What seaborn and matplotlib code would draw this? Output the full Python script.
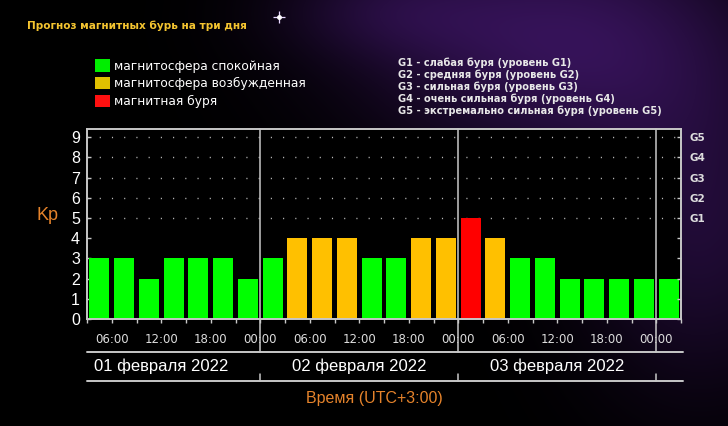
import numpy as np
import pandas as pd
import matplotlib
matplotlib.use('Agg')
import matplotlib.pyplot as plt
from matplotlib.patches import Patch
import seaborn as sns

# Kp forecast, 3-hour slots from 03:00 01.02.2022 to 03:00 04.02.2022
kp_values = [3, 3, 2, 3, 3, 3, 2,
             3, 4, 4, 4, 3, 3, 4, 4,
             5, 4, 3, 3, 2, 2, 2, 2,
             2]
hour_labels = ['06:00', '12:00', '18:00', '00:00'] * 3
day_labels = ['01 февраля 2022', '02 февраля 2022', '03 февраля 2022']
kp_ticks = list(range(10))
g_labels = ['G1', 'G2', 'G3', 'G4', 'G5']
state_labels = ['магнитосфера спокойная', 'магнитосфера возбужденная', 'магнитная буря']
g_descriptions = [
    'G1 - слабая буря (уровень G1)',
    'G2 - средняя буря (уровень G2)',
    'G3 - сильная буря (уровень G3)',
    'G4 - очень сильная буря (уровень G4)',
    'G5 - экстремально сильная буря (уровень G5)',
]

bar_colors = {state_labels[0]: '#00ff00', state_labels[1]: '#ffc000', state_labels[2]: '#ff0000'}
legend_colors = ['#00ee00', '#e0c000', '#ff1010']
title_color = '#f5c530'
orange = '#e5832b'
line_color = '#c8c8c8'


def kp_state(kp):
    if kp >= 5:
        return state_labels[2]
    if kp == 4:
        return state_labels[1]
    return state_labels[0]


def main():
    sns.set_theme(style='white')
    plt.rcParams['font.family'] = ['DejaVu Sans']
    plt.rcParams['figure.facecolor'] = 'black'

    df = pd.DataFrame({
        'slot': range(len(kp_values)),
        'kp': kp_values,
        'state': [kp_state(v) for v in kp_values],
    })

    fig = plt.figure(figsize=(7.28, 4.26), dpi=100)

    # starry background with a purple glow in the upper right
    bg = fig.add_axes([0, 0, 1, 1], zorder=-10)
    yy, xx = np.mgrid[0:426, 0:728]
    glow = (np.exp(-(((xx - 560) / 190.0) ** 2 + ((yy - 40) / 120.0) ** 2))
            + 0.6 * np.exp(-(((xx - 700) / 120.0) ** 2 + ((yy - 230) / 160.0) ** 2))
            + 0.4 * np.exp(-(((xx - 380) / 110.0) ** 2 + ((yy - 10) / 50.0) ** 2)))
    img = np.zeros((426, 728, 3))
    img[..., 0] = 0.20 * glow
    img[..., 1] = 0.07 * glow
    img[..., 2] = 0.33 * glow
    bg.imshow(np.clip(img, 0, 1), aspect='auto', extent=(0, 728, 426, 0))
    bg.plot(279, 17, marker='+', ms=8, mew=0.9, color='#e8d8ff')
    bg.plot(279, 17, marker='o', ms=2.5, color='white')
    bg.set_xlim(0, 728)
    bg.set_ylim(426, 0)
    bg.axis('off')

    ax = fig.add_axes([87 / 728, 1 - 319 / 426, 594 / 728, 190 / 426])
    ax.set_facecolor('black')

    # dotted levels for G1..G5
    for level in kp_ticks[5:]:
        ax.axhline(level, color='#bbbbbb', lw=1.0, ls=(0, (0.8, 8)), zorder=0)

    sns.barplot(data=df, x='slot', y='kp', hue='state', palette=bar_colors,
                hue_order=state_labels, dodge=False, width=0.8, saturation=1,
                legend=False, edgecolor='none', ax=ax, zorder=2)

    n = len(kp_values)
    ax.set_xlim(-0.5, n - 0.5)
    ax.set_ylim(0, 9.4)
    ax.set_xlabel('')
    ax.set_ylabel('')

    # day boundaries (00:00) and 6-hour labels
    midnights = [6.5 + 8 * i for i in range(3)]
    major = [0.5 + 2 * i for i in range(len(hour_labels))]
    minor = [-0.5 + 2 * i for i in range(n // 2 + 1)]
    ax.set_xticks(major)
    ax.set_xticklabels(hour_labels)
    ax.set_xticks(minor, minor=True)
    ax.tick_params(axis='x', which='both', direction='out', length=3, width=1,
                   color=line_color, bottom=True, pad=7)
    ax.tick_params(axis='x', labelsize=8.5, labelcolor='#dddddd')

    ax.set_yticks(kp_ticks)
    ax.set_yticklabels([str(k) for k in kp_ticks], family='Liberation Sans')
    ax.tick_params(axis='y', direction='in', length=3, width=1, color=line_color,
                   left=True, labelsize=11.5, labelcolor='white', pad=5)

    right = ax.twinx()
    right.set_ylim(ax.get_ylim())
    right.set_yticks(kp_ticks)
    right.set_yticklabels([''] * 5 + g_labels, fontweight='bold')
    right.tick_params(axis='y', direction='in', length=3, width=1, color=line_color,
                      right=True, labelsize=7.5, labelcolor='#dddddd', pad=6)

    for a in (ax, right):
        for side in a.spines.values():
            side.set_color(line_color)
            side.set_linewidth(1.2)

    xt = ax.get_xaxis_transform()
    for m in midnights:
        ax.plot([m, m], [-0.175, 1], transform=xt, color=line_color, lw=1.1,
                clip_on=False, zorder=3)
        ax.plot([m, m], [-0.327, -0.29], transform=xt, color=line_color, lw=1.1,
                clip_on=False)
    for y in (-0.175, -0.327):
        ax.plot([0, 1.003], [y, y], transform=ax.transAxes, color=line_color,
                lw=1.4, clip_on=False)
    for m, label in zip(midnights, day_labels):
        ax.text(m - 4, -0.25, label, transform=xt, ha='center', va='center',
                color='white', fontsize=12, family='Liberation Sans')

    fig.text(374 / 728, 1 - 399 / 426, 'Время (UTC+3:00)', ha='center', va='center',
             color=orange, fontsize=11.5, family='Liberation Sans')
    fig.text(48 / 728, 1 - 216 / 426, 'Kp', ha='center', va='center',
             color=orange, fontsize=13, family='Liberation Sans')

    fig.text(27 / 728, 1 - 26 / 426, 'Прогноз магнитных бурь на три дня',
             ha='left', va='center', color=title_color, fontsize=7.6, fontweight='bold')

    handles = [Patch(facecolor=c, edgecolor='none') for c in legend_colors]
    fig.legend(handles, state_labels, loc='upper left',
               bbox_to_anchor=(93 / 728, 1 - 57 / 426), frameon=False,
               fontsize=8.8, labelcolor='white', handlelength=1.15, handleheight=1.15,
               handletextpad=0.4, labelspacing=0.36, borderaxespad=0, borderpad=0.2)

    for i, line in enumerate(g_descriptions):
        fig.text(398 / 728, 1 - (63 + 12 * i) / 426, line, ha='left', va='center',
                 color='#e8e8e8', fontsize=7.1, fontweight='bold')

    fig.savefig('out.png', dpi=100, facecolor='black')


if __name__ == '__main__':
    main()
